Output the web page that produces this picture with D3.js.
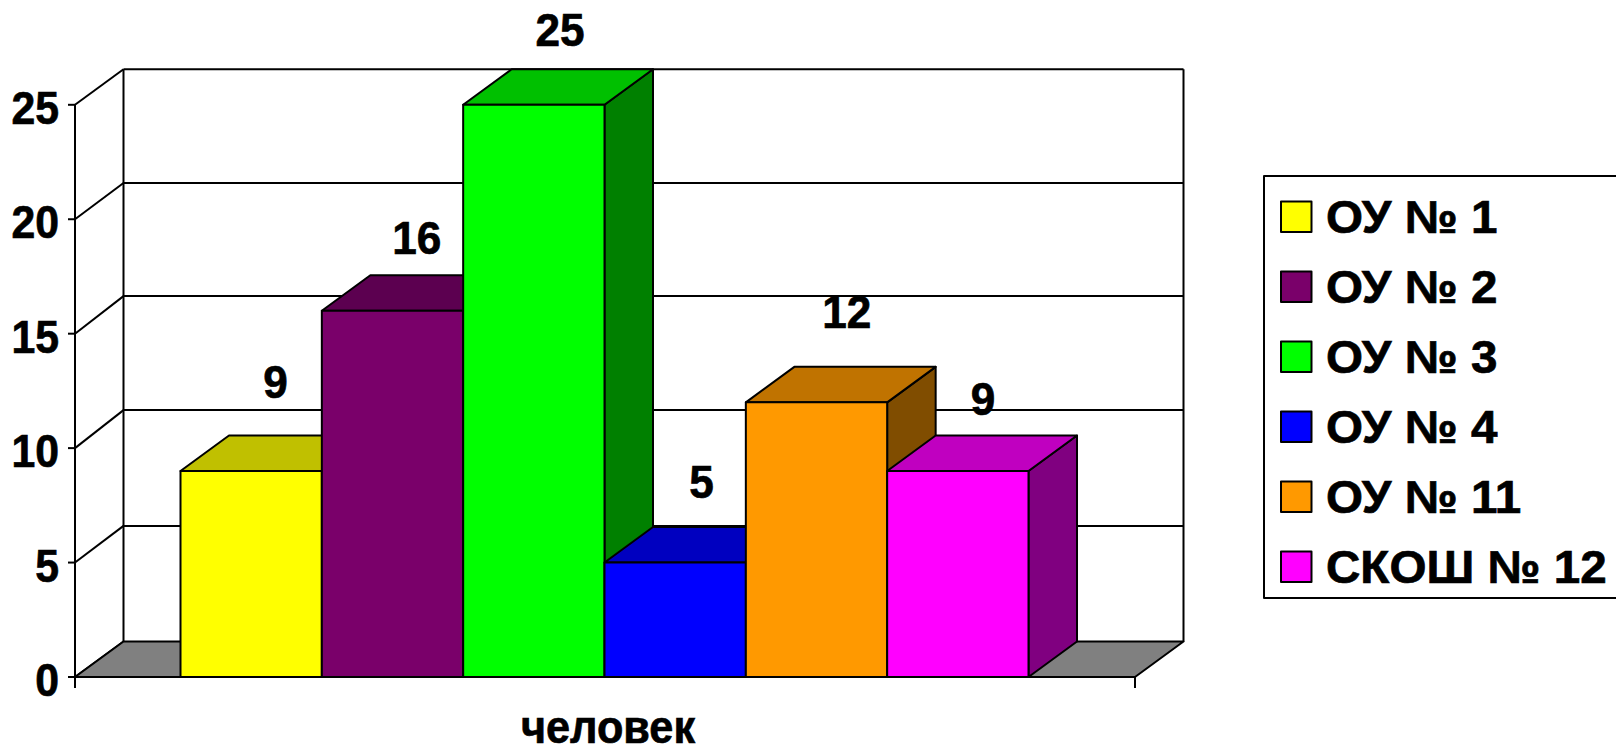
<!DOCTYPE html>
<html><head><meta charset="utf-8">
<script src="https://cdnjs.cloudflare.com/ajax/libs/d3/7.8.5/d3.min.js"></script>
<style>html,body{margin:0;padding:0;background:#fff;overflow:hidden}svg{display:block}
text{font-family:"Liberation Sans",Arial,sans-serif;font-weight:700;fill:#000;stroke:#000;stroke-width:.7px}</style></head>
<body><svg id="c" width="1616" height="745"></svg>
<script>
const categories=["ОУ № 1","ОУ № 2","ОУ № 3","ОУ № 4","ОУ № 11","СКОШ № 12"];
const values=[9,16,25,5,12,9];
const yTicks=[0,5,10,15,20,25];
const wallLevels=[5.05,10.11,15.09,20.03,25];
const xTitle="человек";
const frontColors=["#ffff00","#7a006a","#00ff00","#0000ff","#ff9900","#ff00ff"];
const topColors=["#c0c000","#5c0050","#00c000","#0000c0","#c07300","#c000c0"];
const sideColors=["#808000","#3d0035","#008000","#000080","#804d00","#800080"];
const labelRise=[89,73,75,80,90,72];
const labelShift=[0,0,2,2,6,1];

const svg=d3.select("#c");
const dx=48.5, dy=35.5;
const y=d3.scaleLinear().domain([0,25]).range([677,104.8]);
const x=d3.scaleBand().domain(categories).range([180.5,1028.5]);
const left=75,right=1135;
const poly=p=>p.map(q=>q.join(",")).join(" ");
const stroke={stroke:"#000","stroke-width":2,"stroke-linejoin":"round"};
const ap=(s,o)=>{for(const k in o)s.attr(k,o[k]);return s;};

// back wall gridlines
ap(svg.append("g").selectAll("line").data(wallLevels).join("line")
 .attr("x1",left+dx).attr("x2",right+dx).attr("y1",d=>y(d)-dy).attr("y2",d=>y(d)-dy),stroke);
// walls edges
ap(svg.append("line").attr("x1",left+dx).attr("x2",left+dx).attr("y1",y(25)-dy).attr("y2",y(0)-dy),stroke);
ap(svg.append("line").attr("x1",right+dx).attr("x2",right+dx).attr("y1",y(25)-dy).attr("y2",y(0)-dy),stroke);
// side wall diagonals
ap(svg.append("g").selectAll("line").data(yTicks).join("line")
 .attr("x1",left).attr("x2",left+dx).attr("y1",d=>y(d)).attr("y2",(d,i)=>y(i?wallLevels[i-1]:0)-dy),stroke);
// floor
ap(svg.append("polygon").attr("points",poly([[left,y(0)],[right,y(0)],[right+dx,y(0)-dy],[left+dx,y(0)-dy]])).attr("fill","#808080"),stroke);
// y axis
ap(svg.append("line").attr("x1",left).attr("x2",left).attr("y1",y(25)).attr("y2",y(0)+11),stroke);
ap(svg.append("line").attr("x1",right).attr("x2",right).attr("y1",y(0)).attr("y2",y(0)+11),stroke);
ap(svg.append("g").selectAll("line").data(yTicks).join("line")
 .attr("x1",left-7).attr("x2",left).attr("y1",d=>y(d)).attr("y2",d=>y(d)),stroke);

const stretched=(g,px,py,anchor,txt,size,sx)=>g.append("text")
 .attr("transform",`translate(${px},${py}) scale(${sx},1)`)
 .attr("text-anchor",anchor).attr("font-size",size).attr("dominant-baseline","central").text(txt);

const gy=svg.append("g");
yTicks.forEach(d=>stretched(gy,59,y(d)+3,"end",d,46,0.93));

// bars
const bars=svg.append("g");
categories.forEach((c,i)=>{
  const v=values[i],x0=x(c),x1=x0+x.bandwidth(),yt=y(v),yb=y(0);
  const g=bars.append("g");
  ap(g.append("polygon").attr("points",poly([[x1,yt],[x1+dx,yt-dy],[x1+dx,yb-dy],[x1,yb]])).attr("fill",sideColors[i]),stroke);
  ap(g.append("polygon").attr("points",poly([[x0,yt],[x0+dx,yt-dy],[x1+dx,yt-dy],[x1,yt]])).attr("fill",topColors[i]),stroke);
  ap(g.append("rect").attr("x",x0).attr("y",yt).attr("width",x1-x0).attr("height",yb-yt).attr("fill",frontColors[i]),stroke);
});
// value labels
const gl=svg.append("g");
categories.forEach((c,i)=>stretched(gl,x(c)+x.bandwidth()/2+dx/2+labelShift[i],y(values[i])-labelRise[i],"middle",values[i],46,0.96));

// x title
svg.append("text").attr("transform","translate(608,742.5) scale(0.94,1)")
 .attr("text-anchor","middle").attr("font-size",46).text(xTitle);

// legend
const lg=svg.append("g");
ap(lg.append("rect").attr("x",1264).attr("y",176).attr("width",400).attr("height",422).attr("fill","#fff"),stroke);
categories.forEach((c,i)=>{
  const yy=201.5+i*70;
  ap(lg.append("rect").attr("x",1281).attr("y",yy).attr("width",30.5).attr("height",30.5).attr("fill",frontColors[i]),stroke);
  stretched(lg,1326,yy+16,"start",c,46,1.035);
});
</script></body></html>
